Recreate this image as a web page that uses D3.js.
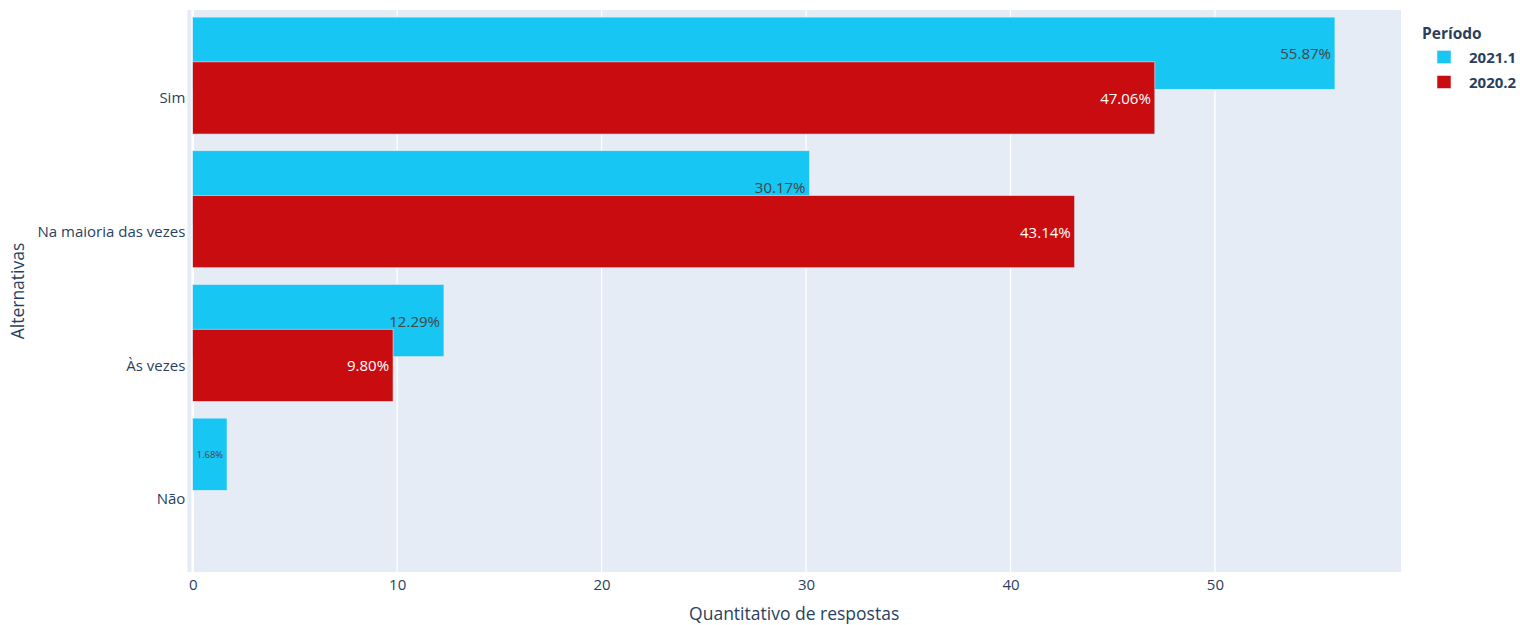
<!DOCTYPE html>
<html>
<head>
<meta charset="utf-8">
<script src="https://cdn.jsdelivr.net/npm/d3@7"></script>
<style>
  html, body { margin: 0; padding: 0; background: #fff; }
  svg { display: block; }
  text { font-family: "Open Sans", verdana, arial, sans-serif; }
</style>
</head>
<body>
<svg id="chart" width="1520" height="625"></svg>
<script>
// ---- data ----
const categories = ["Sim", "Na maioria das vezes", "Às vezes", "Não"];
const seriesNames = ["2021.1", "2020.2"];
const values2021_1 = [55.87, 30.17, 12.29, 1.68];
const values2020_2 = [47.06, 43.14, 9.80, null];
const labels2021_1 = ["55.87%", "30.17%", "12.29%", "1.68%"];
const labels2020_2 = ["47.06%", "43.14%", "9.80%", null];
const xTicks = [0, 10, 20, 30, 40, 50];
const legendTitle = "Período";
const xTitle = "Quantitativo de respostas";
const yTitle = "Alternativas";

// ---- styling / layout ----
const colors = ["#17C6F3", "#C80C10"];
const textColors = ["#444444", "#ffffff"];
const offsets = [-0.605, -0.27];   // bar offset in category units
const barWidthU = 0.54;
const plot = { left: 187.3, right: 1401, top: 10, bottom: 572 };
const inkColor = "#2a3f5f";
const fs = 15;

const svg = d3.select("#chart");

const x = d3.scaleLinear().domain([-0.264, 59.1]).range([plot.left, plot.right]);
const y = d3.scaleLinear().domain([-0.658, 3.546]).range([plot.top, plot.bottom]);
const catIndex = d3.scaleOrdinal().domain(categories).range(d3.range(categories.length));

// background
svg.append("rect")
  .attr("x", plot.left).attr("y", plot.top)
  .attr("width", plot.right - plot.left).attr("height", plot.bottom - plot.top)
  .attr("fill", "#E5ECF6");

// grid lines
svg.append("g").selectAll("line").data(xTicks.filter(d => d !== 0)).join("line")
  .attr("x1", d => x(d)).attr("x2", d => x(d))
  .attr("y1", plot.top).attr("y2", plot.bottom)
  .attr("stroke", "#fff").attr("stroke-width", 1.25);
// zero line
svg.append("line")
  .attr("x1", x(0)).attr("x2", x(0))
  .attr("y1", plot.top).attr("y2", plot.bottom)
  .attr("stroke", "#fff").attr("stroke-width", 2.5);

// x axis
const xAxis = d3.axisBottom(x).tickValues(xTicks).tickSize(0).tickPadding(7).tickFormat(d3.format("d"));
const gx = svg.append("g").attr("transform", `translate(0,${plot.bottom})`).call(xAxis);
gx.select(".domain").remove();
gx.selectAll("text").attr("fill", inkColor).style("font-size", fs + "px")
  .style("font-family", "'Open Sans', verdana, arial, sans-serif");

// y axis
const yAxis = d3.axisLeft(d3.scaleOrdinal().domain(categories).range(categories.map((c, i) => y(i))))
  .tickSize(0).tickPadding(2);
const gy = svg.append("g").attr("transform", `translate(${plot.left},0)`).call(yAxis);
gy.select(".domain").remove();
gy.selectAll("text").attr("fill", inkColor).style("font-size", fs + "px")
  .style("font-family", "'Open Sans', verdana, arial, sans-serif");

// bars
const allValues = [values2021_1, values2020_2];
const allLabels = [labels2021_1, labels2020_2];
const measurer = svg.append("text").style("font-size", fs + "px").attr("opacity", 0);

seriesNames.forEach((name, s) => {
  const data = categories.map((c, i) => ({ c, i, v: allValues[s][i], t: allLabels[s][i] }))
    .filter(d => d.v != null);
  const g = svg.append("g");
  g.selectAll("rect").data(data).join("rect")
    .attr("x", x(0))
    .attr("y", d => y(catIndex(d.c) + offsets[s]))
    .attr("width", d => x(d.v) - x(0))
    .attr("height", d => y(catIndex(d.c) + offsets[s] + barWidthU) - y(catIndex(d.c) + offsets[s]))
    .attr("fill", colors[s])
    .attr("stroke", "#E5ECF6").attr("stroke-width", 0.6);

  data.forEach(d => {
    const x0 = x(0), x1 = x(d.v);
    const yc = y(catIndex(d.c) + offsets[s] + barWidthU / 2);
    measurer.text(d.t);
    const tw = measurer.node().getComputedTextLength();
    const pad = 4;
    const avail = x1 - x0 - 2 * pad;
    const t = g.append("text").text(d.t)
      .attr("fill", textColors[s])
      .attr("dominant-baseline", "central");
    if (tw <= avail) {
      t.attr("x", x1 - pad).attr("y", yc).attr("text-anchor", "end").style("font-size", fs + "px");
    } else {
      const sc = avail / tw;
      t.attr("x", (x0 + x1) / 2).attr("y", yc).attr("text-anchor", "middle")
        .style("font-size", (fs * sc) + "px");
    }
  });
});
measurer.remove();

// axis titles
svg.append("text")
  .attr("x", (plot.left + plot.right) / 2).attr("y", 620)
  .attr("text-anchor", "middle").attr("fill", inkColor)
  .style("font-size", "17.5px").text(xTitle);
svg.append("text")
  .attr("transform", `translate(24,${(plot.top + plot.bottom) / 2}) rotate(-90)`)
  .attr("text-anchor", "middle").attr("fill", inkColor)
  .style("font-size", "17.5px").text(yTitle);

// legend
const lg = svg.append("g").attr("transform", "translate(1422,0)");
lg.append("text").attr("x", 0).attr("y", 39).attr("fill", inkColor)
  .style("font-size", "15.5px").style("font-weight", "bold").text(legendTitle);
seriesNames.forEach((name, s) => {
  const cy = 57 + s * 25;
  lg.append("rect").attr("x", 15).attr("y", cy - 6.5).attr("width", 14).attr("height", 13)
    .attr("fill", colors[s]).attr("stroke", "#E5ECF6").attr("stroke-width", 0.6);
  lg.append("text").attr("x", 47).attr("y", cy).attr("dominant-baseline", "central")
    .attr("fill", inkColor).style("font-size", "15px").style("font-weight", "bold").text(name);
});
</script>
</body>
</html>
